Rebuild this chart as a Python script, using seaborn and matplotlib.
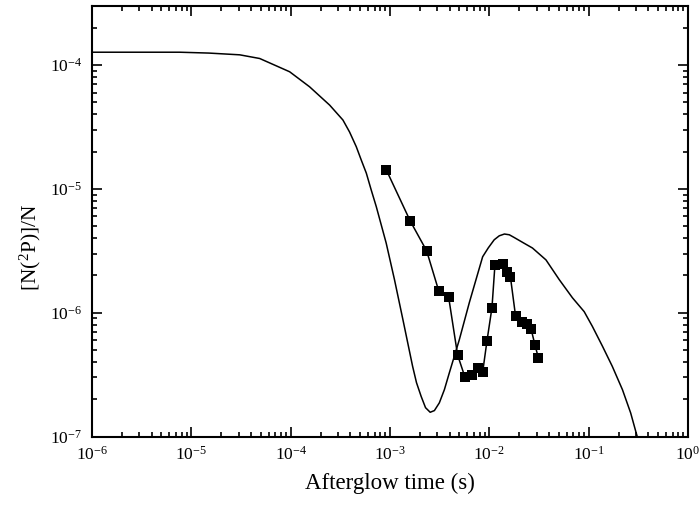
import matplotlib
matplotlib.use("Agg")
import matplotlib.pyplot as plt
import seaborn as sns
import pandas as pd
from matplotlib.ticker import LogLocator, LogFormatterSciNotation, NullFormatter

# model curve (afterglow time in s, relative density)
curve_t = [1.0e-6, 7.66e-6, 1.5e-5, 3.07e-5, 4.88e-5, 9.77e-5, 1.55e-4, 2.47e-4,
           3.36e-4, 3.92e-4, 4.58e-4, 5.14e-4, 5.78e-4, 6.47e-4, 7.28e-4,
           9.16e-4, 1.11e-3, 1.35e-3, 1.69e-3, 1.85e-3, 2.06e-3, 2.28e-3,
           2.54e-3, 2.80e-3, 3.14e-3, 3.53e-3, 3.96e-3, 4.99e-3, 6.30e-3,
           8.57e-3, 9.77e-3, 1.12e-2, 1.26e-2, 1.42e-2, 1.59e-2, 1.78e-2,
           2.20e-2, 2.72e-2, 3.72e-2, 5.06e-2, 6.87e-2, 9.02e-2, 1.09e-1,
           1.38e-1, 1.73e-1, 2.19e-1, 2.65e-1, 3.02e-1, 3.61e-1]
curve_n = [1.27e-4, 1.27e-4, 1.25e-4, 1.21e-4, 1.13e-4, 8.83e-5, 6.68e-5, 4.75e-5,
           3.60e-5, 2.88e-5, 2.19e-5, 1.71e-5, 1.34e-5, 9.82e-6, 7.19e-6,
           3.65e-6, 1.85e-6, 8.79e-7, 3.69e-7, 2.72e-7, 2.11e-7, 1.71e-7,
           1.57e-7, 1.62e-7, 1.87e-7, 2.39e-7, 3.27e-7, 6.05e-7, 1.21e-6,
           2.83e-6, 3.34e-6, 3.88e-6, 4.18e-6, 4.32e-6, 4.26e-6, 4.05e-6,
           3.67e-6, 3.33e-6, 2.67e-6, 1.85e-6, 1.32e-6, 1.02e-6, 7.76e-7,
           5.35e-7, 3.69e-7, 2.39e-7, 1.55e-7, 1.06e-7, 6.53e-8]

# measured points
meas_t = [9.2e-4, 1.6e-3, 2.34e-3, 3.09e-3, 3.9e-3, 4.79e-3, 5.7e-3, 6.64e-3,
          7.62e-3, 8.57e-3, 9.48e-3, 1.064e-2, 1.14e-2, 1.36e-2, 1.49e-2,
          1.63e-2, 1.84e-2, 2.13e-2, 2.4e-2, 2.64e-2, 2.88e-2, 3.12e-2]
meas_n = [1.42e-5, 5.5e-6, 3.16e-6, 1.51e-6, 1.33e-6, 4.57e-7, 3.0e-7, 3.15e-7,
          3.55e-7, 3.3e-7, 5.94e-7, 1.1e-6, 2.44e-6, 2.48e-6, 2.15e-6,
          1.96e-6, 9.33e-7, 8.35e-7, 8.12e-7, 7.33e-7, 5.5e-7, 4.32e-7]

sns.set_style("ticks")
plt.rcParams["font.family"] = ["Liberation Serif", "DejaVu Serif"]
plt.rcParams["mathtext.fontset"] = "custom"
plt.rcParams["mathtext.rm"] = "Liberation Serif"
plt.rcParams["mathtext.it"] = "Liberation Serif:italic"
plt.rcParams["mathtext.bf"] = "Liberation Serif:bold"
plt.rcParams["axes.unicode_minus"] = False
plt.rcParams["text.color"] = "black"
plt.rcParams["axes.labelcolor"] = "black"
plt.rcParams["axes.edgecolor"] = "black"
plt.rcParams["xtick.color"] = "black"
plt.rcParams["ytick.color"] = "black"

curve = pd.DataFrame({"t": curve_t, "n": curve_n})
meas = pd.DataFrame({"t": meas_t, "n": meas_n})

fig = plt.figure(figsize=(7, 5.08), dpi=100)
ax = fig.add_axes([0.1314, 0.1407, 0.8514, 0.8475])

sns.lineplot(data=curve, x="t", y="n", ax=ax, color="black", lw=1.1,
             sort=False, estimator=None)
sns.lineplot(data=meas, x="t", y="n", ax=ax, color="black", lw=1.1,
             marker="s", markersize=7.5, markeredgewidth=0,
             sort=False, estimator=None)

ax.set_xscale("log")
ax.set_yscale("log")
ax.set_xlim(1e-6, 1e0)
ax.set_ylim(1e-7, 3.0e-4)

for a in (ax.xaxis, ax.yaxis):
    a.set_major_locator(LogLocator(base=10, numticks=20))
    a.set_minor_locator(LogLocator(base=10, subs=range(2, 10), numticks=20))
    a.set_minor_formatter(NullFormatter())
    a.set_major_formatter(LogFormatterSciNotation())

ax.tick_params(which="both", direction="in", top=True, right=True,
               width=1.2, labelsize=12.5)
ax.tick_params(which="major", length=7, pad=7)
ax.tick_params(which="minor", length=3.5)
for s in ax.spines.values():
    s.set_linewidth(1.5)

ax.set_xlabel("Afterglow time (s)", fontsize=16.5, labelpad=6)
ax.set_ylabel("[N($^2$P)]/N", fontsize=15.5)
ax.yaxis.set_label_coords(-0.082, 0.44)

fig.savefig("out.png", dpi=100)
plt.close(fig)
